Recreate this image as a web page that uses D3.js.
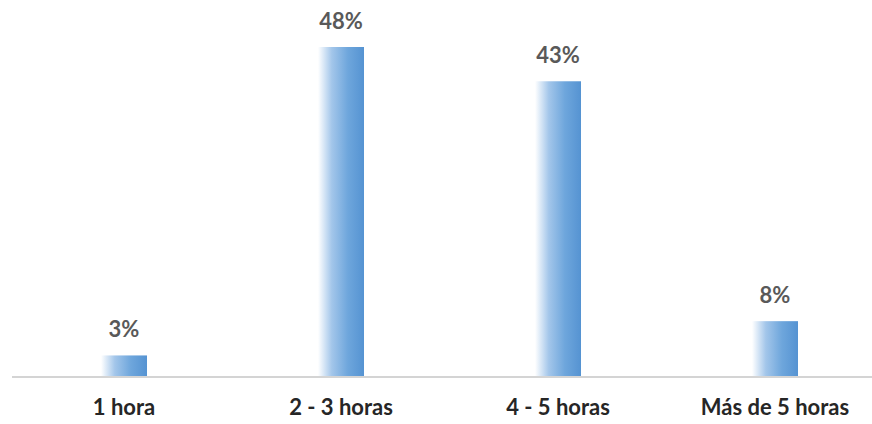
<!DOCTYPE html>
<html>
<head>
<meta charset="utf-8">
<script src="https://cdn.jsdelivr.net/npm/d3@7"></script>
<style>
  body { margin: 0; background: #fff; }
  svg { display: block; }
</style>
</head>
<body>
<svg id="chart"></svg>
<script>
const categories = ["1 hora", "2 - 3 horas", "4 - 5 horas", "Más de 5 horas"];
const values = [3, 48, 43, 8];
const valueLabels = ["3%", "48%", "43%", "8%"];

const w = 872, h = 424;
const baseY = 376;

const svg = d3.select("#chart")
    .attr("width", w)
    .attr("height", h);

// horizontal gradient, pale on the left going to blue
const grad = svg.append("defs").append("linearGradient")
    .attr("id", "barGrad")
    .attr("x1", "0%").attr("x2", "100%")
    .attr("y1", "0%").attr("y2", "0%");
grad.append("stop").attr("offset", "0%").attr("stop-color", "#ffffff");
grad.append("stop").attr("offset", "30%").attr("stop-color", "#a3c6ea");
grad.append("stop").attr("offset", "65%").attr("stop-color", "#6ea6dc");
grad.append("stop").attr("offset", "100%").attr("stop-color", "#5593d2");

const x = d3.scaleBand()
    .domain(categories)
    .range([15.5, 883.5])
    .paddingInner(0.788)
    .paddingOuter(0.394);

const y = d3.scaleLinear()
    .domain([0, 48])
    .range([baseY, 47]);

const data = categories.map((c, i) => ({cat: c, val: values[i], lbl: valueLabels[i]}));

svg.selectAll("rect.bar")
    .data(data)
    .enter()
    .append("rect")
    .attr("class", "bar")
    .attr("x", d => x(d.cat))
    .attr("width", x.bandwidth())
    .attr("y", d => y(d.val))
    .attr("height", d => baseY - y(d.val))
    .attr("fill", "url(#barGrad)");

// axis line
svg.append("line")
    .attr("x1", 12).attr("x2", w)
    .attr("y1", baseY + 1).attr("y2", baseY + 1)
    .attr("stroke", "#d4d4d4")
    .attr("stroke-width", 2);

svg.selectAll("text.val")
    .data(data)
    .enter()
    .append("text")
    .attr("class", "val")
    .text(d => d.lbl)
    .attr("x", d => x(d.cat) + x.bandwidth() / 2)
    .attr("y", d => y(d.val) - 18)
    .attr("text-anchor", "middle")
    .attr("font-family", "Lato, 'Open Sans', sans-serif")
    .attr("font-weight", "bold")
    .attr("font-size", "22px")
    .attr("fill", "#595959");

svg.selectAll("text.cat")
    .data(data)
    .enter()
    .append("text")
    .attr("class", "cat")
    .text(d => d.cat)
    .attr("x", d => x(d.cat) + x.bandwidth() / 2)
    .attr("y", 415)
    .attr("text-anchor", "middle")
    .attr("font-family", "Lato, 'Open Sans', sans-serif")
    .attr("font-weight", "bold")
    .attr("font-size", "22px")
    .attr("fill", "#262626");
</script>
</body>
</html>
